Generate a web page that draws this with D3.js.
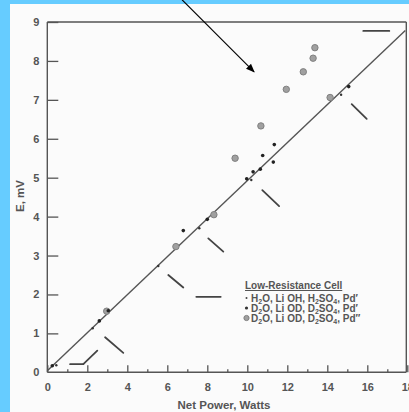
<!DOCTYPE html>
<html>
<head>
<meta charset="utf-8">
<script src="https://cdn.jsdelivr.net/npm/d3@7"></script>
<style>
  body { margin: 0; background: #66ccff; }
  svg { display: block; }
  .axis path { display: none; }
  .axis line { stroke: #555; stroke-width: 1.3; }
  .axis text { fill: #555; font-family: "Liberation Sans", Arial, sans-serif; font-size: 11px; font-weight: bold; }
  .lbl { fill: #555; font-family: "Liberation Sans", Arial, sans-serif; font-weight: bold; }
</style>
</head>
<body>
<svg id="chart" width="409" height="412"></svg>
<script>
// ---- data ----
var xTicks = [0, 2, 4, 6, 8, 10, 12, 14, 16, 18];
var xMinor = [1, 3, 5, 7, 9, 11, 13, 15, 17];
var yTicks = [0, 1, 2, 3, 4, 5, 6, 7, 8, 9];

// H2O, Li OH, H2SO4, Pd' (tiny dots)
var h2oX = [0.45, 2.27, 5.55, 7.6, 10.2, 14.69];
var h2oY = [0.18, 1.13, 2.73, 3.70, 4.94, 7.13];

// D2O, Li OD, D2SO4, Pd' (dots)
var d2oX = [0.25, 2.6, 3.05, 6.8, 8.0, 9.97, 10.29, 10.65, 10.77, 11.3, 11.35, 15.07];
var d2oY = [0.17, 1.32, 1.58, 3.64, 3.93, 4.97, 5.15, 5.22, 5.57, 5.40, 5.85, 7.34];

// D2O, Li OD, D2SO4, Pd" (grey circles)
var pdX = [2.97, 6.43, 8.33, 9.39, 10.68, 11.95, 12.8, 13.29, 13.38, 14.14];
var pdY = [1.57, 3.23, 4.05, 5.50, 6.33, 7.27, 7.72, 8.07, 8.34, 7.06];

// straight fit line
var fitX = [0, 17.9];
var fitY = [0.04, 8.78];

// loose dash strokes on the scan (x1, y1, x2, y2)
var dashX1 = [1.14, 1.80, 2.89, 6.05, 7.45, 8.05, 10.75, 15.22, 15.8];
var dashY1 = [0.21, 0.21, 0.90, 2.50, 1.94, 3.44, 4.68, 6.89, 8.77];
var dashX2 = [1.80, 2.50, 3.80, 6.80, 8.67, 8.80, 11.59, 15.97, 17.1];
var dashY2 = [0.21, 0.555, 0.50, 2.18, 1.94, 3.10, 4.27, 6.51, 8.77];

// pointer arrow (from, to)
var arrowX = [6.74, 10.34];
var arrowY = [9.57, 7.72];

var legendTitle = "Low-Resistance Cell";

// ---- layout ----
var svg = d3.select("#chart");
var x = d3.scaleLinear().domain([0, 18]).range([47.3, 407.3]);
var y = d3.scaleLinear().domain([0, 9]).range([372.3, 22]);

svg.append("rect").attr("x", 0).attr("y", 0).attr("width", 409).attr("height", 412).attr("fill", "#66ccff");
svg.append("rect").attr("x", 10).attr("y", 4).attr("width", 399).attr("height", 408).attr("fill", "#fbfbfb");

var defs = svg.append("defs");
defs.append("marker").attr("id", "head")
    .attr("viewBox", "0 0 10 10").attr("refX", 9).attr("refY", 5)
    .attr("markerWidth", 8).attr("markerHeight", 8).attr("orient", "auto")
  .append("path").attr("d", "M0,1 L10,5 L0,9 z").attr("fill", "#000");

// frame
var frame = svg.append("g").attr("stroke", "#555").attr("stroke-width", 1.4).attr("fill", "none");
frame.append("line").attr("x1", x(0)).attr("x2", x(0)).attr("y1", y(0)).attr("y2", y(9));
frame.append("line").attr("x1", x(0)).attr("x2", x(17.95)).attr("y1", y(9)).attr("y2", y(9));
frame.append("line").attr("x1", x(17.95)).attr("x2", x(17.95)).attr("y1", y(9)).attr("y2", y(0));
frame.append("line").attr("x1", x(0)).attr("x2", x(17.95)).attr("y1", y(0)).attr("y2", y(0));

// axes with inward ticks
svg.append("g").attr("class", "axis")
   .attr("transform", "translate(0," + y(0) + ")")
   .call(d3.axisBottom(x).tickValues(xTicks).tickSize(-7).tickPadding(11).tickFormat(d3.format("d")));
svg.append("g").attr("class", "axis")
   .attr("transform", "translate(0," + y(0) + ")")
   .call(d3.axisBottom(x).tickValues(xMinor).tickSize(-3).tickFormat(""));
svg.append("g").attr("class", "axis")
   .attr("transform", "translate(" + x(0) + ",0)")
   .call(d3.axisLeft(y).tickValues(yTicks.slice(1)).tickSize(-11).tickPadding(8).tickFormat(d3.format("d")));
svg.append("g").attr("class", "axis")
   .attr("transform", "translate(" + x(0) + ",0)")
   .call(d3.axisLeft(y).tickValues([0]).tickSize(0).tickPadding(8).tickFormat(d3.format("d")));

// axis titles
svg.append("text").attr("class", "lbl").attr("font-size", 11.5)
   .attr("x", 224).attr("y", 409).attr("text-anchor", "middle").text("Net Power, Watts");
svg.append("text").attr("class", "lbl").attr("font-size", 11.5)
   .attr("transform", "translate(24,196) rotate(-90)").attr("text-anchor", "middle").text("E, mV");

// fit line
svg.append("line")
   .attr("x1", x(fitX[0])).attr("y1", y(fitY[0]))
   .attr("x2", x(fitX[1])).attr("y2", y(fitY[1]))
   .attr("stroke", "#555").attr("stroke-width", 1.4);

// dash strokes
svg.append("g").selectAll("line").data(dashX1).enter().append("line")
   .attr("x1", function(d, i) { return x(dashX1[i]); })
   .attr("y1", function(d, i) { return y(dashY1[i]); })
   .attr("x2", function(d, i) { return x(dashX2[i]); })
   .attr("y2", function(d, i) { return y(dashY2[i]); })
   .attr("stroke", "#444").attr("stroke-width", 1.8).attr("stroke-linecap", "round");

// points
svg.append("g").selectAll("circle").data(pdX).enter().append("circle")
   .attr("cx", function(d) { return x(d); })
   .attr("cy", function(d, i) { return y(pdY[i]); })
   .attr("r", 3.2).attr("fill", "#a0a0a0").attr("stroke", "#808080").attr("stroke-width", 1);
svg.append("g").selectAll("circle").data(d2oX).enter().append("circle")
   .attr("cx", function(d) { return x(d); })
   .attr("cy", function(d, i) { return y(d2oY[i]); })
   .attr("r", 1.8).attr("fill", "#222");
svg.append("g").selectAll("circle").data(h2oX).enter().append("circle")
   .attr("cx", function(d) { return x(d); })
   .attr("cy", function(d, i) { return y(h2oY[i]); })
   .attr("r", 1.2).attr("fill", "#333");

// arrow
svg.append("line")
   .attr("x1", x(arrowX[0])).attr("y1", y(arrowY[0]))
   .attr("x2", x(arrowX[1])).attr("y2", y(arrowY[1]))
   .attr("stroke", "#000").attr("stroke-width", 1.1).attr("marker-end", "url(#head)");

// legend
var lg = svg.append("g").attr("class", "lbl").attr("font-size", 10).attr("font-weight", "normal");
lg.append("text").attr("x", 245).attr("y", 289).attr("text-decoration", "underline").text(legendTitle);

function row(yy, sub, prime) {
  var t = lg.append("text").attr("x", 251).attr("y", yy);
  var parts = sub;
  parts.forEach(function(p) {
    var s = t.append("tspan").text(p[0]);
    if (p[1]) s.attr("font-size", 7).attr("baseline-shift", "-25%");
    else s.attr("baseline-shift", "0%");
  });
  t.append("tspan").text(prime);
}
row(301.5, [["H"], ["2", 1], ["O, Li OH, H"], ["2", 1], ["SO"], ["4", 1], [", Pd"]], "\u2032");
row(311.5, [["D"], ["2", 1], ["O, Li OD, D"], ["2", 1], ["SO"], ["4", 1], [", Pd"]], "\u2032");
row(321.5, [["D"], ["2", 1], ["O, Li OD, D"], ["2", 1], ["SO"], ["4", 1], [", Pd"]], "\u2033");

lg.append("circle").attr("cx", 246.5).attr("cy", 298).attr("r", 1).attr("fill", "#444");
lg.append("circle").attr("cx", 246.5).attr("cy", 308).attr("r", 1.6).attr("fill", "#333");
lg.append("circle").attr("cx", 246.5).attr("cy", 318).attr("r", 2.6).attr("fill", "#a0a0a0").attr("stroke", "#808080");
</script>
</body>
</html>
